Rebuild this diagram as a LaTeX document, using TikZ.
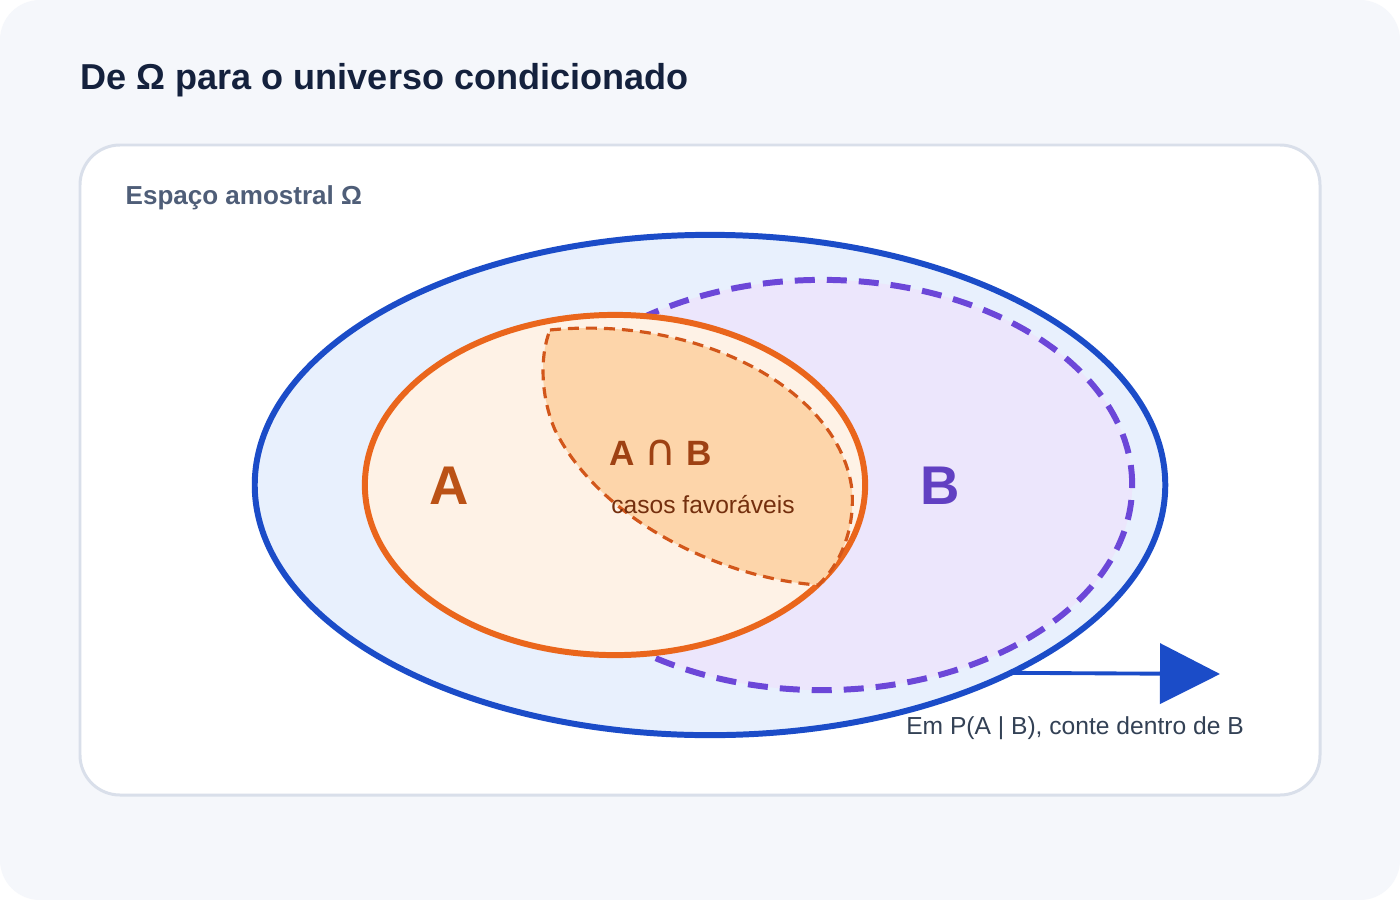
\documentclass[tikz,border=0pt]{standalone}
\usepackage{fontspec}
\setmainfont{Liberation Sans}
\newfontfamily\symfont{DejaVu Sans}
\usetikzlibrary{shapes.geometric,arrows.meta,positioning}

\definecolor{pagebg}{HTML}{F5F7FB}
\definecolor{panelline}{HTML}{D9DFEA}
\definecolor{omegafill}{HTML}{E8F0FD}
\definecolor{omegaline}{HTML}{1B4CC8}
\definecolor{bfill}{HTML}{ECE6FC}
\definecolor{bline}{HTML}{6C47D8}
\definecolor{afill}{HTML}{FEF2E6}
\definecolor{aline}{HTML}{EA661C}
\definecolor{capfill}{HTML}{FDD5AA}
\definecolor{capline}{HTML}{D2561A}
\definecolor{titlecol}{HTML}{14213D}
\definecolor{subcol}{HTML}{4F5E78}
\definecolor{notecol}{HTML}{334155}

\begin{document}
\begin{tikzpicture}[x=0.01cm,y=-0.01cm,
   set/.style={ellipse,inner sep=0pt,outer sep=0pt,line width=1.7pt},
   big/.style={anchor=base,inner sep=0pt,font=\fontsize{15.5}{18}\selectfont\bfseries},
   small/.style={anchor=base,inner sep=0pt,font=\fontsize{7}{8.5}\selectfont}]
   % page and panel
   \fill[white] (0,0) rectangle (1400,900);
   \fill[pagebg,rounded corners=0.4cm] (0,0) rectangle (1400,900);
   \draw[panelline,fill=white,line width=0.85pt,rounded corners=0.4cm] (80,145) rectangle (1320,795);
   \node[anchor=base west,inner sep=0pt,text=titlecol,font=\fontsize{10.25}{12}\selectfont\bfseries] (title) at (80,89) {De Ω para o universo condicionado};
   \node[anchor=base west,inner sep=0pt,text=subcol,font=\fontsize{7.4}{9}\selectfont\bfseries] (space) at (125,204) {Espaço amostral Ω};

   % the three sets
   \node[set,draw=omegaline,fill=omegafill,minimum width=9.1cm,minimum height=5cm] (omega) at (710,485) {};
   \node[set,draw=bline,fill=bfill,dash pattern=on 0.2cm off 0.12cm,minimum width=6.2cm,minimum height=4.1cm] (setB) at (822,485) {};
   \node[set,draw=aline,fill=afill,minimum width=5cm,minimum height=3.4cm] (setA) at (615,485) {};
   \draw[capline,fill=capfill,line width=0.9pt,dash pattern=on 0.11cm off 0.07cm]
      (550,330) .. controls (700,315) and (840,390) .. (852,490)
      .. controls (855,530) and (840,565) .. (818,585)
      .. controls (720,578) and (600,520) .. (555,430)
      .. controls (540,395) and (540,355) .. (550,330) -- cycle;

   \node[big,text=aline!80!black] (labA) at (449,504) {A};
   \node[big,text=bline!90!black] (labB) at (940,504) {B};
   \node[anchor=base,inner sep=0pt,text=capline!75!black,font=\fontsize{10}{12}\selectfont\bfseries] (cap) at (661,465) {A {\symfont\mdseries\fontsize{12.5}{12}\selectfont ∩} B};
   \node[small,text=capline!55!black] (fav) at (703,513) {casos favoráveis};

   % conditioning arrow
   \coordinate (tip) at (1220,674);
   \draw[omegaline,line width=1.1pt,-{Triangle[length=0.6cm,width=0.6cm]}] (omega.-32.3) -- (tip);
   \node[small,text=notecol] (note) at (1075,734) {Em P(A | B), conte dentro de B};
\end{tikzpicture}
\end{document}
